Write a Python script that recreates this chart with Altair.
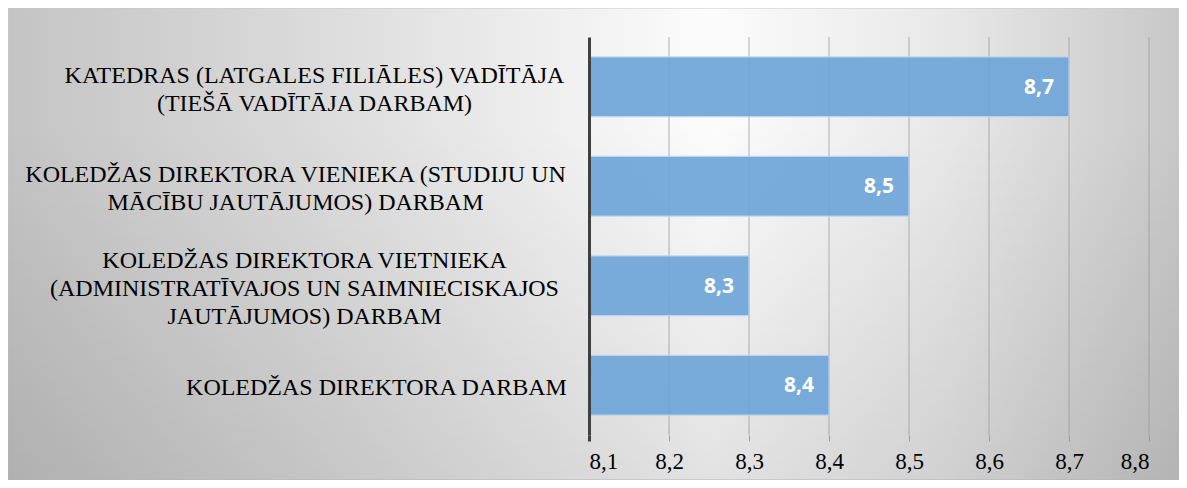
import altair as alt
import pandas as pd
import json

# ---- data ----
category_lines = [
    ["KATEDRAS (LATGALES FILIĀLES) VADĪTĀJA", "(TIEŠĀ VADĪTĀJA DARBAM)"],
    ["KOLEDŽAS DIREKTORA VIENIEKA (STUDIJU UN", "MĀCĪBU JAUTĀJUMOS) DARBAM"],
    ["KOLEDŽAS DIREKTORA VIETNIEKA", "(ADMINISTRATĪVAJOS UN SAIMNIECISKAJOS", "JAUTĀJUMOS) DARBAM"],
    ["KOLEDŽAS DIREKTORA DARBAM"],
]
scores = [8.7, 8.5, 8.3, 8.4]
tick_values = [8.1, 8.2, 8.3, 8.4, 8.5, 8.6, 8.7, 8.8]

# ---- style ----
SEP = "|"
categories = [SEP.join(c) for c in category_lines]
label_pad = [275, 294, 285, 213]  # centre of each label block from the axis
LINE_H = 28
label_off = [-(len(c) - 1) * LINE_H / 2 + 3 for c in category_lines]

W, H = 560, 398
PAD = {"left": 581, "top": 29, "right": 30, "bottom": 45}

df = pd.DataFrame({"cat": categories, "score": scores})
df["lbl"] = [f"{v:.1f}".replace(".", ",") for v in scores]
grid_df = pd.DataFrame({"t": tick_values[1:]})

xscale = alt.Scale(domain=[tick_values[0], tick_values[-1]], nice=False, zero=False)
ysort = categories


def per_cat(vals):
    return {
        "condition": [
            {"test": f"datum.value === {json.dumps(c, ensure_ascii=False)}", "value": v}
            for c, v in zip(categories[:-1], vals[:-1])
        ],
        "value": vals[-1],
    }


bg_data = alt.Data(values=[{"a": 1}])

bg = alt.Chart(bg_data).mark_rect(
    fill=alt.LinearGradient(
        gradient="linear", x1=0, y1=0.5, x2=1, y2=0.5,
        stops=[
            alt.GradientStop(offset=0, color="#c4c4c4"),
            alt.GradientStop(offset=0.25, color="#dadada"),
            alt.GradientStop(offset=0.6, color="#fcfcfc"),
            alt.GradientStop(offset=0.8, color="#e8e8e8"),
            alt.GradientStop(offset=1, color="#c8c8c8"),
        ],
    ),
    stroke="#c8c8c8", strokeWidth=1,
).encode(
    x=alt.value(-PAD["left"]), x2=alt.value(W + PAD["right"]),
    y=alt.value(-PAD["top"]), y2=alt.value(H + PAD["bottom"]),
)

shade = alt.Chart(bg_data).mark_rect(
    fill=alt.LinearGradient(
        gradient="linear", x1=0.5, y1=0, x2=0.5, y2=1,
        stops=[
            alt.GradientStop(offset=0, color="rgba(0,0,0,0)"),
            alt.GradientStop(offset=0.25, color="rgba(0,0,0,0)"),
            alt.GradientStop(offset=1, color="rgba(0,0,0,0.10)"),
        ],
    ),
).encode(
    x=alt.value(-PAD["left"]), x2=alt.value(W + PAD["right"]),
    y=alt.value(-PAD["top"]), y2=alt.value(H + PAD["bottom"]),
)

grid = alt.Chart(grid_df).mark_rule(color="#9a9a9a", strokeWidth=1, opacity=0.75).encode(
    x=alt.X("t:Q", scale=xscale)
)

x_axis = alt.Axis(
    values=tick_values,
    labelExpr="replace(format(datum.value, '.1f'), '.', ',')",
    grid=False, domain=False,
    tickSize=6,
    tickColor={"condition": {"test": "datum.value === 8.1", "value": "#404040"}, "value": "#9a9a9a"},
    tickWidth={"condition": {"test": "datum.value === 8.1", "value": 3}, "value": 1},
    labelFont="Liberation Serif", labelFontSize=23, labelColor="#000000",
    labelPadding=9, title=None, zindex=1,
)
y_axis = alt.Axis(
    labelExpr=f"split(datum.label, '{SEP}')",
    labelAlign="center", labelBaseline="middle",
    labelPadding=per_cat(label_pad), labelOffset=per_cat(label_off),
    labelLimit=0, labelLineHeight=LINE_H,
    labelFont="Liberation Serif", labelFontSize=24, labelColor="#000000",
    ticks=False, domainColor="#404040", domainWidth=3, grid=False,
    title=None, zindex=1,
)

bars = alt.Chart(df).mark_bar(
    color="#6fa6d9", opacity=0.92, stroke="#b5d3ef", strokeWidth=1.2,
).encode(
    y=alt.Y("cat:N", sort=ysort, axis=y_axis,
            scale=alt.Scale(paddingInner=0.4, paddingOuter=0.2)),
    x=alt.X("score:Q", scale=xscale, axis=x_axis),
    x2=alt.datum(tick_values[0]),
)

text = alt.Chart(df).mark_text(
    align="right", baseline="middle", dx=-15, dy=1,
    font="Open Sans", fontWeight="bold", fontSize=21, color="#ffffff",
).encode(
    y=alt.Y("cat:N", sort=ysort),
    x=alt.X("score:Q", scale=xscale),
    text="lbl:N",
)

chart = alt.layer(bg, shade, grid, bars, text).properties(
    width=W, height=H, padding=PAD,
    autosize=alt.AutoSizeParams(type="none"),
    background="#ffffff",
).configure_view(stroke=None)

chart.save("out.html", embed_options={"renderer": "svg", "actions": False})
